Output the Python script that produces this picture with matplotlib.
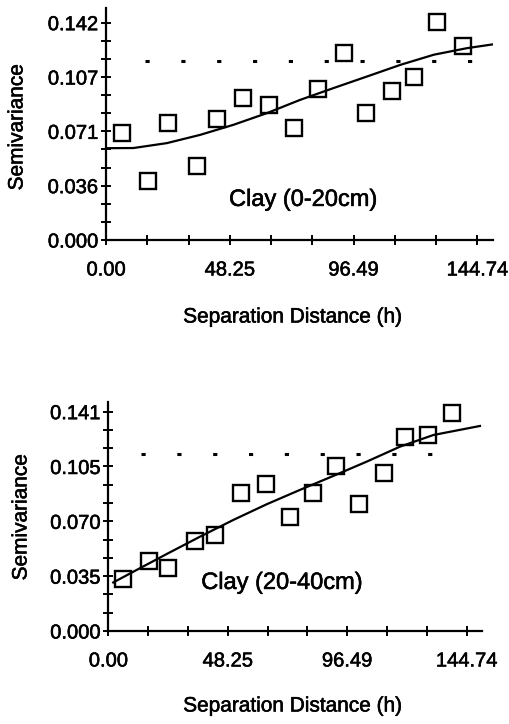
import numpy as np
import matplotlib
matplotlib.use("Agg")
import matplotlib.pyplot as plt
from matplotlib import font_manager
import matplotlib.patheffects as pe

# ---- data -------------------------------------------------------------
# experimental semivariances, clay 0-20 cm
lag_top = [6.1, 16.3, 24.3, 35.4, 43.4, 53.3, 63.7, 73.4, 82.8, 92.6, 101.4, 111.5, 119.9, 129.0, 139.2]
gamma_top = [0.0696, 0.0388, 0.0767, 0.0482, 0.0793, 0.0925, 0.0883, 0.0731, 0.0984, 0.1224, 0.0831, 0.0973, 0.1065, 0.1427, 0.1265]
# fitted model curve, clay 0-20 cm
model_x_top = [0.0, 10.7, 23.7, 36.7, 49.7, 62.7, 75.7, 88.7, 101.8, 114.8, 127.8, 140.8, 150.6]
model_y_top = [0.0600, 0.0601, 0.0633, 0.0687, 0.0753, 0.0829, 0.0916, 0.0993, 0.1069, 0.1145, 0.1211, 0.1254, 0.1278]
sill_top = 0.1171
sill_span_top = [15.1, 142.9]

# experimental semivariances, clay 20-40 cm
lag_bot = [5.9, 16.5, 24.2, 35.0, 43.1, 53.5, 63.7, 73.4, 82.5, 92.0, 101.4, 111.4, 120.0, 129.2, 139.0]
gamma_bot = [0.0335, 0.0450, 0.0402, 0.0579, 0.0614, 0.0889, 0.0946, 0.0735, 0.0889, 0.1062, 0.0815, 0.1018, 0.1248, 0.1257, 0.1403]
# fitted model curve, clay 20-40 cm
model_x_bot = [2.0, 10.1, 23.6, 37.0, 50.5, 64.0, 77.4, 90.9, 104.4, 117.8, 131.3, 150.1]
model_y_bot = [0.0312, 0.0381, 0.0495, 0.0606, 0.0714, 0.0815, 0.0907, 0.0997, 0.1089, 0.1185, 0.1260, 0.1318]
sill_bot = 0.1136
sill_span_bot = [13.3, 142.9]

x_tick_labels = ["0.00", "48.25", "96.49", "144.74"]
y_tick_labels_top = ["0.000", "0.036", "0.071", "0.107", "0.142"]
y_tick_labels_bot = ["0.000", "0.035", "0.070", "0.105", "0.141"]
y_axis_max_top = 0.142
y_axis_max_bot = 0.141
x_axis_max = 144.74

titles = ["Clay (0-20cm)", "Clay (20-40cm)"]

# ---- style ------------------------------------------------------------
names = {f.name for f in font_manager.fontManager.ttflist}
family = "Liberation Sans" if "Liberation Sans" in names else "DejaVu Sans"
plt.rcParams["font.family"] = [family, "DejaVu Sans"]
plt.rcParams["lines.scale_dashes"] = False

# slightly heavier glyphs, like a photocopied print
heavy = [pe.withStroke(linewidth=0.4, foreground="black")]

W, H = 509, 724
fig = plt.figure(figsize=(W / 100, H / 100), dpi=100)


def px_axes(left, right, top, bottom):
    return fig.add_axes([left / W, 1 - bottom / H, (right - left) / W, (bottom - top) / H])


def style_axes(ax, ymax_label, ylabels, ytop):
    for side in ("top", "right"):
        ax.spines[side].set_visible(False)
    for side in ("left", "bottom"):
        ax.spines[side].set_linewidth(1.6)
    ax.set_xlim(0, 150.8)
    ax.set_ylim(0, ytop)
    xt = np.linspace(0, x_axis_max, 10)
    ax.set_xticks(xt)
    ax.set_xticklabels([x_tick_labels[i // 3] if i % 3 == 0 else "" for i in range(10)])
    yt = np.linspace(0, ymax_label, 13)
    ax.set_yticks(yt)
    ax.set_yticklabels([ylabels[i // 3] if i % 3 == 0 else "" for i in range(13)])
    ax.tick_params(axis="both", direction="inout", length=7.5, width=1.4,
                   labelsize=14.5, colors="black")
    ax.tick_params(axis="x", pad=11)
    ax.tick_params(axis="y", pad=2)
    for lbl in ax.get_xticklabels() + ax.get_yticklabels():
        lbl.set_path_effects(heavy)
    ax.set_facecolor("none")


def draw_panel(ax, lags, gammas, mx, my, sill, span, title, title_xy):
    ax.plot(mx, my, color="black", lw=1.6, zorder=2)
    ax.plot(span, [sill, sill], color="black", lw=2.2,
            linestyle=(0, (3.0, 22.8)), zorder=2)
    ax.plot(lags, gammas, linestyle="none", marker="s", ms=11,
            mfc="none", mec="black", mew=1.7, zorder=3)
    ax.text(title_xy[0], title_xy[1], title, ha="center", va="center",
            fontsize=17, path_effects=heavy)


ax1 = px_axes(106, 493, 8, 240)
style_axes(ax1, y_axis_max_top, y_tick_labels_top, 0.1516)
draw_panel(ax1, lag_top, gamma_top, model_x_top, model_y_top, sill_top,
           sill_span_top, titles[0], (76.9, 0.0262))

ax2 = px_axes(108.3, 481.7, 401.7, 631)
style_axes(ax2, y_axis_max_bot, y_tick_labels_bot, 0.1474)
draw_panel(ax2, lag_bot, gamma_bot, model_x_bot, model_y_bot, sill_bot,
           sill_span_bot, titles[1], (70.2, 0.0309))

# axis titles
for (xc, yc) in [(293, 317), (293, 706)]:
    fig.text(xc / W, 1 - yc / H, "Separation Distance (h)", ha="center", va="center",
             fontsize=15, path_effects=heavy)
for (xc, yc) in [(17, 127), (21, 517)]:
    fig.text(xc / W, 1 - yc / H, "Semivariance", ha="center", va="center",
             rotation=90, fontsize=15, path_effects=heavy)

fig.savefig("out.png", dpi=100, facecolor="white")
